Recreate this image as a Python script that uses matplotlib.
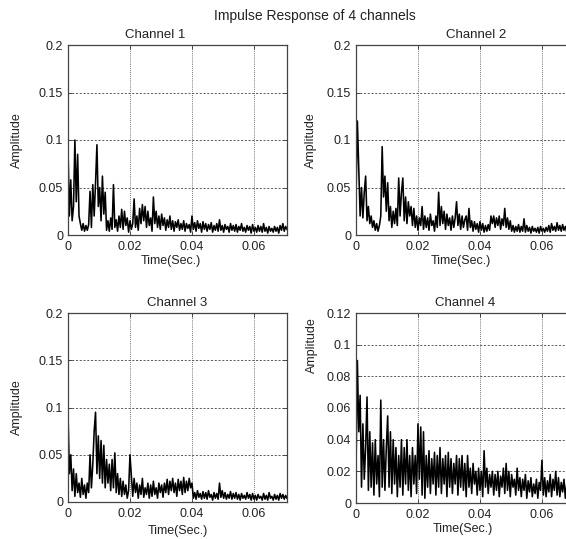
import numpy as np
import matplotlib
matplotlib.use('Agg')
import matplotlib.pyplot as plt

# impulse response magnitudes at evenly spaced times
t_end = 0.0707

ch1 = [0.092, 0.02, 0.058, 0.015, 0.03, 0.1, 0.035, 0.085, 0.02, 0.012,
       0.005, 0.012, 0.004, 0.01, 0.005, 0.011, 0.046, 0.008, 0.053, 0.02,
       0.055, 0.095, 0.03, 0.05, 0.015, 0.062, 0.022, 0.045, 0.005, 0.015,
       0.004, 0.018, 0.006, 0.053, 0.008, 0.016, 0.004, 0.02, 0.008, 0.027,
       0.006, 0.025, 0.01, 0.018, 0.003, 0.015, 0.006, 0.012, 0.038, 0.008,
       0.02, 0.005, 0.028, 0.012, 0.032, 0.015, 0.03, 0.008, 0.025, 0.01,
       0.018, 0.004, 0.04, 0.012, 0.025, 0.008, 0.02, 0.006, 0.022, 0.01,
       0.018, 0.005, 0.016, 0.008, 0.02, 0.006, 0.015, 0.004, 0.014, 0.008,
       0.016, 0.005, 0.012, 0.006, 0.015, 0.004, 0.012, 0.007, 0.011, 0.003,
       0.02, 0.006, 0.013, 0.004, 0.015, 0.007, 0.012, 0.003, 0.014, 0.006,
       0.012, 0.004, 0.011, 0.006, 0.013, 0.003, 0.01, 0.005, 0.012, 0.004,
       0.016, 0.005, 0.01, 0.003, 0.011, 0.006, 0.009, 0.003, 0.012, 0.005,
       0.01, 0.004, 0.011, 0.003, 0.009, 0.005, 0.012, 0.004, 0.008, 0.003,
       0.01, 0.005, 0.009, 0.002, 0.011, 0.004, 0.008, 0.003, 0.01, 0.004,
       0.009, 0.003, 0.012, 0.004, 0.008, 0.002, 0.009, 0.004, 0.007, 0.003,
       0.009, 0.004, 0.008, 0.002, 0.01, 0.005, 0.012, 0.004, 0.009, 0.006]

ch2 = [0.04, 0.12, 0.07, 0.02, 0.05, 0.018, 0.045, 0.062, 0.015, 0.03,
       0.012, 0.02, 0.008, 0.015, 0.005, 0.012, 0.004, 0.01, 0.02, 0.093,
       0.04, 0.062, 0.025, 0.055, 0.015, 0.03, 0.008, 0.025, 0.012, 0.028,
       0.01, 0.06, 0.02, 0.045, 0.06, 0.015, 0.04, 0.012, 0.035, 0.02,
       0.03, 0.01, 0.028, 0.008, 0.02, 0.005, 0.018, 0.01, 0.03, 0.006,
       0.02, 0.008, 0.018, 0.005, 0.022, 0.01, 0.015, 0.004, 0.02, 0.008,
       0.045, 0.01, 0.03, 0.012, 0.025, 0.006, 0.022, 0.01, 0.018, 0.005,
       0.02, 0.008, 0.018, 0.035, 0.01, 0.022, 0.006, 0.02, 0.008, 0.016,
       0.02, 0.005, 0.028, 0.008, 0.015, 0.004, 0.014, 0.006, 0.012, 0.003,
       0.014, 0.005, 0.012, 0.003, 0.01, 0.004, 0.011, 0.005, 0.02, 0.012,
       0.02, 0.008, 0.018, 0.01, 0.02, 0.006, 0.017, 0.01, 0.028, 0.008,
       0.018, 0.006, 0.015, 0.004, 0.01, 0.003, 0.009, 0.004, 0.011, 0.003,
       0.009, 0.004, 0.017, 0.003, 0.01, 0.004, 0.008, 0.002, 0.009, 0.004,
       0.007, 0.003, 0.008, 0.002, 0.009, 0.004, 0.007, 0.003, 0.008, 0.004,
       0.01, 0.003, 0.012, 0.005, 0.009, 0.004, 0.013, 0.005, 0.01, 0.004,
       0.011, 0.005, 0.009, 0.003, 0.012, 0.004, 0.01, 0.005, 0.011, 0.004]

ch3 = [0.095, 0.03, 0.05, 0.012, 0.035, 0.006, 0.03, 0.01, 0.02, 0.005,
       0.025, 0.008, 0.018, 0.004, 0.02, 0.01, 0.05, 0.015, 0.04, 0.075,
       0.095, 0.03, 0.07, 0.025, 0.065, 0.02, 0.06, 0.015, 0.045, 0.02,
       0.04, 0.012, 0.045, 0.015, 0.052, 0.01, 0.03, 0.008, 0.025, 0.006,
       0.022, 0.008, 0.018, 0.004, 0.012, 0.05, 0.028, 0.006, 0.025, 0.01,
       0.02, 0.004, 0.018, 0.008, 0.025, 0.005, 0.015, 0.008, 0.02, 0.004,
       0.018, 0.006, 0.022, 0.008, 0.015, 0.004, 0.02, 0.01, 0.018, 0.005,
       0.02, 0.01, 0.024, 0.008, 0.022, 0.012, 0.025, 0.01, 0.02, 0.006,
       0.024, 0.012, 0.022, 0.008, 0.026, 0.01, 0.022, 0.012, 0.025, 0.015,
       0.02, 0.004, 0.01, 0.003, 0.012, 0.005, 0.009, 0.003, 0.011, 0.004,
       0.01, 0.003, 0.012, 0.005, 0.008, 0.002, 0.01, 0.004, 0.009, 0.003,
       0.02, 0.005, 0.012, 0.004, 0.01, 0.003, 0.008, 0.004, 0.011, 0.003,
       0.009, 0.004, 0.01, 0.003, 0.008, 0.002, 0.009, 0.004, 0.007, 0.003,
       0.01, 0.004, 0.008, 0.002, 0.009, 0.003, 0.007, 0.002, 0.008, 0.004,
       0.006, 0.002, 0.009, 0.003, 0.007, 0.002, 0.01, 0.004, 0.006, 0.002,
       0.008, 0.003, 0.007, 0.002, 0.009, 0.004, 0.008, 0.003, 0.007, 0.004]

ch4 = [0.02, 0.09, 0.045, 0.068, 0.01, 0.05, 0.015, 0.035, 0.067, 0.008,
       0.045, 0.01, 0.038, 0.005, 0.04, 0.012, 0.03, 0.004, 0.065, 0.01,
       0.04, 0.008, 0.035, 0.055, 0.01, 0.045, 0.006, 0.04, 0.012, 0.035,
       0.004, 0.03, 0.01, 0.04, 0.005, 0.035, 0.012, 0.04, 0.008, 0.03,
       0.004, 0.035, 0.012, 0.03, 0.006, 0.05, 0.015, 0.048, 0.005, 0.045,
       0.003, 0.03, 0.01, 0.033, 0.006, 0.028, 0.012, 0.032, 0.005, 0.03,
       0.01, 0.035, 0.006, 0.028, 0.012, 0.03, 0.004, 0.032, 0.01, 0.028,
       0.006, 0.025, 0.012, 0.03, 0.005, 0.028, 0.01, 0.03, 0.008, 0.025,
       0.004, 0.03, 0.01, 0.022, 0.006, 0.025, 0.012, 0.02, 0.005, 0.022,
       0.008, 0.02, 0.004, 0.033, 0.01, 0.022, 0.006, 0.018, 0.01, 0.02,
       0.005, 0.018, 0.008, 0.02, 0.004, 0.017, 0.01, 0.022, 0.006, 0.025,
       0.008, 0.02, 0.004, 0.018, 0.01, 0.015, 0.005, 0.022, 0.008, 0.016,
       0.004, 0.015, 0.008, 0.018, 0.003, 0.014, 0.007, 0.016, 0.004, 0.012,
       0.006, 0.015, 0.003, 0.013, 0.008, 0.027, 0.005, 0.016, 0.004, 0.014,
       0.007, 0.018, 0.004, 0.015, 0.008, 0.02, 0.005, 0.016, 0.004, 0.013,
       0.007, 0.015, 0.003, 0.012, 0.006, 0.014, 0.004, 0.011, 0.005, 0.012]

channels = [ch1, ch2, ch3, ch4]
titles = ['Channel 1', 'Channel 2', 'Channel 3', 'Channel 4']
xticks = [0, 0.02, 0.04, 0.06]
xtick_labels = ['0', '0.02', '0.04', '0.06']
yticks_a = [0, 0.05, 0.1, 0.15, 0.2]
ytick_labels_a = ['0', '0.05', '0.1', '0.15', '0.2']
yticks_b = [0, 0.02, 0.04, 0.06, 0.08, 0.1, 0.12]
ytick_labels_b = ['0', '0.02', '0.04', '0.06', '0.08', '0.1', '0.12']

W, H = 566, 539
plt.rcParams['font.family'] = ['Liberation Sans', 'DejaVu Sans']
plt.rcParams['font.size'] = 9
txt = '#222222'

fig = plt.figure(figsize=(W / 100, H / 100), dpi=100)


def px_box(left, top, right, bottom):
    return [left / W, (H - bottom) / H, (right - left) / W, (bottom - top) / H]


# panel boxes in pixels (right column runs past the picture edge)
boxes = [(68, 45, 287, 235), (356, 45, 575, 235),
         (68, 313, 287, 502), (356, 313, 575, 503)]
title_x = [0.40, 0.55, 0.5, 0.5]
ylab_pos = [(-0.205, 0.5), (-0.178, 0.5), (-0.205, 0.5), (-0.174, 0.83)]
xlab_pos = [(0.47, -0.105), (0.48, -0.105), (0.5, -0.121), (0.49, -0.105)]

for k in range(4):
    ax = fig.add_axes(px_box(*boxes[k]))
    y = channels[k]
    t = np.linspace(0, t_end, len(y))
    ax.plot(t, y, color='black', lw=1.15)
    ax.set_xlim(0, t_end)
    if k == 3:
        ax.set_ylim(0, 0.12)
        ax.set_yticks(yticks_b)
        ax.set_yticklabels(ytick_labels_b)
    else:
        ax.set_ylim(0, 0.2)
        ax.set_yticks(yticks_a)
        ax.set_yticklabels(ytick_labels_a)
    ax.set_xticks(xticks)
    ax.set_xticklabels(xtick_labels)
    ax.tick_params(direction='in', top=True, right=True, length=3,
                   width=0.6, colors='#333333', labelcolor=txt)
    ax.tick_params(axis='x', pad=4.5)
    ax.tick_params(axis='y', pad=3.5)
    ax.xaxis.grid(True, color='#444444', lw=0.6, linestyle=(0, (1, 1.5)))
    ax.yaxis.grid(True, color='#444444', lw=0.6, linestyle=(0, (2.5, 2)))
    for s in ax.spines.values():
        s.set_color('#444444')
        s.set_linewidth(0.9)
    ax.set_title(titles[k], x=title_x[k], pad=5, fontsize=9.5, color=txt)
    ax.set_ylabel('Amplitude', color=txt)
    ax.yaxis.set_label_coords(*ylab_pos[k])
    ax.set_xlabel('Time(Sec.)', color=txt)
    ax.xaxis.set_label_coords(*xlab_pos[k])

fig.text(315 / W, 1 - 16 / H, 'Impulse Response of 4 channels',
         ha='center', va='center', fontsize=10, color=txt)

fig.savefig('out.png', dpi=100)
